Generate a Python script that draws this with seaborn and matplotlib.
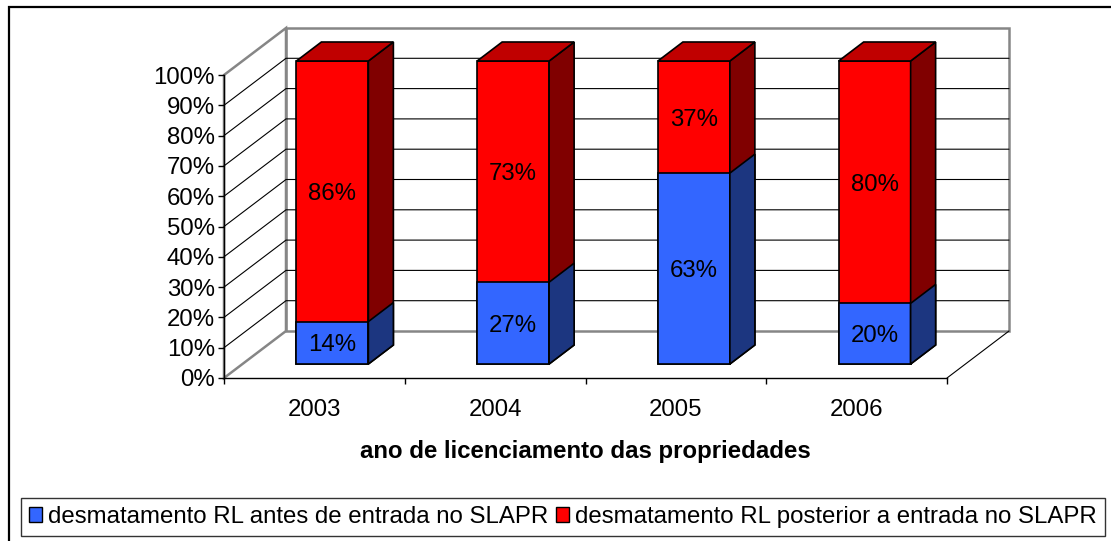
import matplotlib
matplotlib.use("Agg")
import matplotlib.pyplot as plt
from matplotlib.patches import Polygon, Rectangle
from matplotlib.transforms import offset_copy
import numpy as np
import pandas as pd
import seaborn as sns

# ---- data ----
anos = ["2003", "2004", "2005", "2006"]
antes = [14, 27, 63, 20]          # desmatamento antes da entrada no SLAPR (%)
posterior = [86, 73, 37, 80]      # desmatamento posterior à entrada no SLAPR (%)
pct_ticks = [0, 10, 20, 30, 40, 50, 60, 70, 80, 90, 100]
pct_labels = [f"{t}%" for t in pct_ticks]
serie_antes = "desmatamento RL antes de entrada no SLAPR"
serie_posterior = "desmatamento RL posterior a entrada no SLAPR"
titulo_x = "ano de licenciamento das propriedades"

# ---- colours ----
AZUL, AZUL_LADO = "#3366FF", "#1C3680"
VERMELHO, VERMELHO_TOPO, VERMELHO_LADO = "#FF0000", "#C00000", "#800000"
CINZA = "#868686"

sns.set_theme(style="white")
plt.rcParams["font.family"] = ["Liberation Sans", "DejaVu Sans"]
FS = 17.3

W, H = 1111, 541
fig = plt.figure(figsize=(W / 100, H / 100), dpi=100)
fig.patch.set_facecolor("white")

# front plane of the plot area, in pixels
px0, px1, py0, py1 = 224, 947, 75, 378
ax = fig.add_axes([px0 / W, 1 - py1 / H, (px1 - px0) / W, (py1 - py0) / H])
ax.patch.set_visible(False)

px_x = (px1 - px0) / 4.0   # pixels per category
px_y = (py1 - py0) / 100.0  # pixels per percentage point

df = pd.DataFrame({"ano": anos, "antes": antes, "posterior": posterior})
df["total"] = df["antes"] + df["posterior"]

# bars sit a little behind the front plane
front = offset_copy(ax.transData, fig=fig, x=18, y=14, units="dots")
bar_w = 72 / px_x
bar_kw = dict(saturation=1, width=bar_w, edgecolor="black", linewidth=1.2,
              errorbar=None, transform=front, zorder=3, ax=ax)

sns.barplot(data=df, x="ano", y="total", color=VERMELHO, **bar_kw)
barras_post = list(ax.patches)
sns.barplot(data=df, x="ano", y="antes", color=AZUL, **bar_kw)
barras_antes = list(ax.patches[len(barras_post):])
for p in ax.patches:
    p.set_clip_on(False)

ax.set_xlim(-0.5, 3.5)
ax.set_ylim(0, 100)

# depth of the bars (data units)
ddx, ddy = 25 / px_x, 19 / px_y


def faces(p, side_col, top_col=None):
    bx, by, bw, bh = p.get_x(), p.get_y(), p.get_width(), p.get_height()
    side = [(bx + bw, by), (bx + bw + ddx, by + ddy),
            (bx + bw + ddx, by + bh + ddy), (bx + bw, by + bh)]
    ax.add_patch(Polygon(side, closed=True, fc=side_col, ec="black", lw=1.2,
                         transform=front, zorder=3, clip_on=False))
    if top_col is not None:
        top = [(bx, by + bh), (bx + ddx, by + bh + ddy),
               (bx + bw + ddx, by + bh + ddy), (bx + bw, by + bh)]
        ax.add_patch(Polygon(top, closed=True, fc=top_col, ec="black", lw=1.2,
                             transform=front, zorder=3, clip_on=False))


for p in barras_post:
    faces(p, VERMELHO_LADO, VERMELHO_TOPO)
for p in barras_antes:
    faces(p, AZUL_LADO)

# value labels, centred on each segment's front face
for i, (a, b) in enumerate(zip(antes, posterior)):
    ax.text(i, a / 2, f"{a}%", transform=front, ha="center", va="center_baseline",
            fontsize=FS, color="black", zorder=4)
    ax.text(i, a + b / 2, f"{b}%", transform=front, ha="center", va="center_baseline",
            fontsize=FS, color="black", zorder=4)

# ---- walls, floor and gridlines ----
L, R = -0.5, 3.5
Dx, Dy = 62 / px_x, 47 / px_y
ax.add_patch(Polygon([(L + Dx, Dy), (R + Dx, Dy), (R + Dx, 100 + Dy), (L + Dx, 100 + Dy)],
                     closed=True, fc="white", ec=CINZA, lw=1.8, clip_on=False, zorder=0.5))
ax.add_patch(Polygon([(L, 0), (L + Dx, Dy), (L + Dx, 100 + Dy), (L, 100)],
                     closed=True, fc="white", ec=CINZA, lw=1.8, clip_on=False, zorder=0.5))
for t in pct_ticks[1:-1]:
    ax.plot([L, L + Dx, R + Dx], [t, t + Dy, t + Dy], color="black", lw=0.8,
            clip_on=False, zorder=0.7)
ax.plot([R, R + Dx], [0, Dy], color="black", lw=0.8, clip_on=False, zorder=0.7)

# ---- axes ----
for s in ("top", "right"):
    ax.spines[s].set_visible(False)
for s in ("left", "bottom"):
    ax.spines[s].set_color("black")
    ax.spines[s].set_linewidth(1.0)
    ax.spines[s].set_zorder(2)

ax.set_yticks(pct_ticks, pct_labels)
ax.set_xticks(range(len(anos)), anos)
ax.set_xticks(np.arange(-0.5, len(anos), 1.0), minor=True)
ax.tick_params(axis="y", which="major", left=True, direction="out", length=4.5,
               width=1, color="black", pad=2, labelsize=FS, labelcolor="black")
ax.tick_params(axis="x", which="major", bottom=True, length=0, pad=15,
               labelsize=FS, labelcolor="black")
ax.tick_params(axis="x", which="minor", bottom=True, direction="out", length=4.5,
               width=1, color="black")
ax.set_ylabel("")
ax.set_xlabel(titulo_x, fontsize=FS, fontweight="bold", color="black", labelpad=14)

# ---- legend ----
handles = [Rectangle((0, 0), 1, 1, fc=AZUL, ec="black", lw=1),
           Rectangle((0, 0), 1, 1, fc=VERMELHO, ec="black", lw=1)]
leg = fig.legend(handles, [serie_antes, serie_posterior], loc="center",
                 bbox_to_anchor=(563 / W, 1 - 517 / H), ncol=2, frameon=True,
                 fancybox=False, edgecolor="black", fontsize=FS,
                 handlelength=0.55, handleheight=0.55, handletextpad=0.25,
                 columnspacing=0.3, borderpad=0.35, borderaxespad=0)
leg.get_frame().set_linewidth(1)
for txt in leg.get_texts():
    txt.set_color("black")

# outer frame of the chart
fig.add_artist(Rectangle((9 / W, -0.5), 2, 1.5 - 7 / H, transform=fig.transFigure,
                         fill=False, ec="black", lw=1.6))

fig.savefig("out.png", dpi=100)
